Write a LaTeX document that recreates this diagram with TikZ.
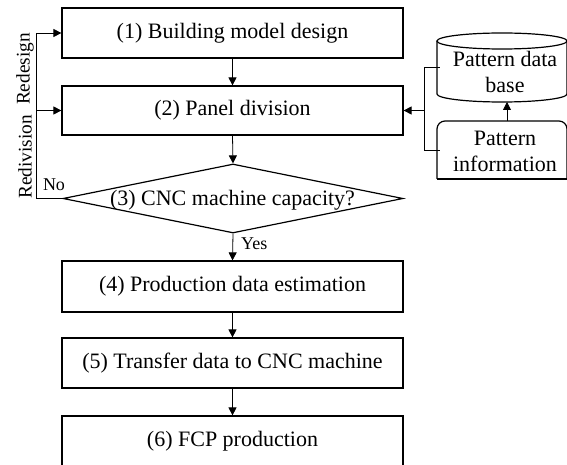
\documentclass[tikz,border=0pt]{standalone}
\usepackage{fontspec}
\setmainfont{Liberation Serif}
\usetikzlibrary{shapes.geometric,arrows.meta}
\begin{document}
\begin{tikzpicture}[x=1pt,y=-1pt,
  every node/.style={font=\fontsize{22}{26}\selectfont, inner sep=0pt},
  procbox/.style={draw, line width=1.2pt, minimum width=341pt, minimum height=50pt},
  sidelabel/.style={rotate=90, font=\fontsize{19.3}{22}\selectfont},
  smalllabel/.style={font=\fontsize{18}{20}\selectfont},
  conn/.style={line width=0.8pt},
  arr/.style={conn, -{Triangle[length=8pt,width=8pt]}}]
\useasboundingbox (0,0) rectangle (567,465);
\clip (0,0) rectangle (567,465);
% process boxes
\node[procbox] (b1) at (232.5,33) {(1) Building model design};
\node[procbox, minimum height=49pt] (b2) at (232.5,110.5) {(2) Panel division};
\node[draw, line width=1.2pt, diamond, aspect=4.93, minimum width=340pt, minimum height=69pt] (d) at (233,198.5) {};
\node at (232.5,200) {(3) CNC machine capacity?};
\node[procbox, minimum height=51pt] (b4) at (232.5,286.5) {(4) Production data estimation};
\node[procbox] (b5) at (232.5,363) {(5) Transfer data to CNC machine};
\node[procbox] (b6) at (232.5,441) {(6) FCP production};
% database cylinder
\draw[line width=1.2pt] (437,41) -- (437,94) arc[start angle=180, end angle=360, x radius=65pt, y radius=8pt] -- (567,41);
\draw[line width=1.2pt] (502,41) ellipse[x radius=65pt, y radius=8pt];
\node[align=center, minimum width=130pt, minimum height=53pt] (db) at (505,72) {Pattern data\\base};
% pattern information
\draw[line width=1.2pt, rounded corners=8pt] (437,179) -- (437,121) -- (567,121) -- (567,179);
\draw[line width=1.2pt] (437,179) -- (567,179);
\node[align=center, minimum width=130pt, minimum height=58pt] (pi) at (505,151) {Pattern\\information};
% connectors main flow
\draw[arr] (b1.south) -- (b2.north);
\draw[arr] (b2.south) -- (d.north);
\draw[arr] (d.south) -- (b4.north);
\draw[arr] (b4.south) -- (b5.north);
\draw[arr] (b5.south) -- (b6.north);
\node[smalllabel, anchor=west] (yes) at (241,244) {Yes};
% feedback loop
\coordinate (lt) at (36,33);
\coordinate (lm) at (36,110.5);
\coordinate (lb) at (36,198.5);
\draw[conn] (d.west) -- (lb) -- (lt);
\draw[arr] (lt) -- (b1.west);
\draw[arr] (lm) -- (b2.west);
\node[smalllabel] (no) at (54,185) {No};
\node[sidelabel] (rd) at (25,69) {Redesign};
\node[sidelabel] (rv) at (25,157) {Redivision};
% pattern data connectors
\coordinate (jt) at (424,67);
\coordinate (jm) at (424,110.5);
\coordinate (jb) at (424,150);
\draw[conn] (db.west |- jt) -- (jt) -- (jb) -- (pi.west |- jb);
\draw[arr] (jm) -- (b2.east);
\draw[arr] (507,121) -- (507,102);
\end{tikzpicture}
\end{document}
